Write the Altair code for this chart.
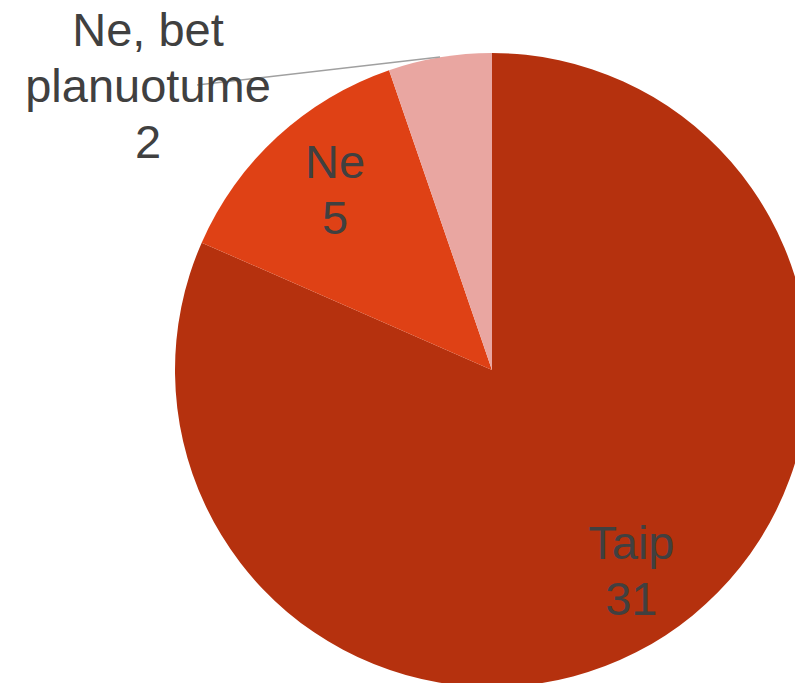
import altair as alt
import pandas as pd

categories = ["Taip", "Ne", "Ne, bet planuotume"]
values = [31, 5, 2]
colors = ["#B5310E", "#DF4115", "#E9A6A1"]
inside = [True, True, False]

df = pd.DataFrame({
    "cat": categories,
    "value": values,
    "idx": list(range(len(categories))),
    "label": [f"{c}\n{v}" if ins else "" for c, v, ins in zip(categories, values, inside)],
})

CX, CY, R = 484, 362, 317
FONT = "Liberation Sans"

base = alt.Chart(df)

pie = base.mark_arc(clip=True).encode(
    theta=alt.Theta("value:Q", stack=True),
    color=alt.Color("cat:N", scale=alt.Scale(domain=categories, range=colors), legend=None),
    order=alt.Order("idx:Q"),
    x=alt.value(CX), y=alt.value(CY), radius=alt.value(R),
)

labels = base.mark_text(font=FONT, fontSize=47, color="#404040", lineBreak="\n",
                        lineHeight=56, align="center", baseline="middle", dy=-28, dx=7).encode(
    theta=alt.Theta("value:Q", stack=True),
    order=alt.Order("idx:Q"),
    text="label:N",
    x=alt.value(CX), y=alt.value(CY), radius=alt.value(242),
)

outer_df = pd.DataFrame({"label": [f"Ne, bet\nplanuotume\n{values[2]}"]})
leader = alt.Chart(outer_df).mark_rule(color="#A0A0A0", strokeWidth=1.5).encode(
    x=alt.value(189), y=alt.value(77), x2=alt.value(432), y2=alt.value(49)
)
outer = alt.Chart(outer_df).mark_text(font=FONT, fontSize=47, color="#404040", lineBreak="\n",
                                      lineHeight=56, align="center", baseline="alphabetic").encode(
    text="label:N", x=alt.value(140), y=alt.value(38)
)

chart = alt.layer(pie, leader, outer, labels).properties(
    width=787, height=675,
    autosize=alt.AutoSizeParams(type="none"),
    padding=0,
).configure_view(stroke=None)

chart.save("out.html", embed_options={"renderer": "svg", "actions": False})
